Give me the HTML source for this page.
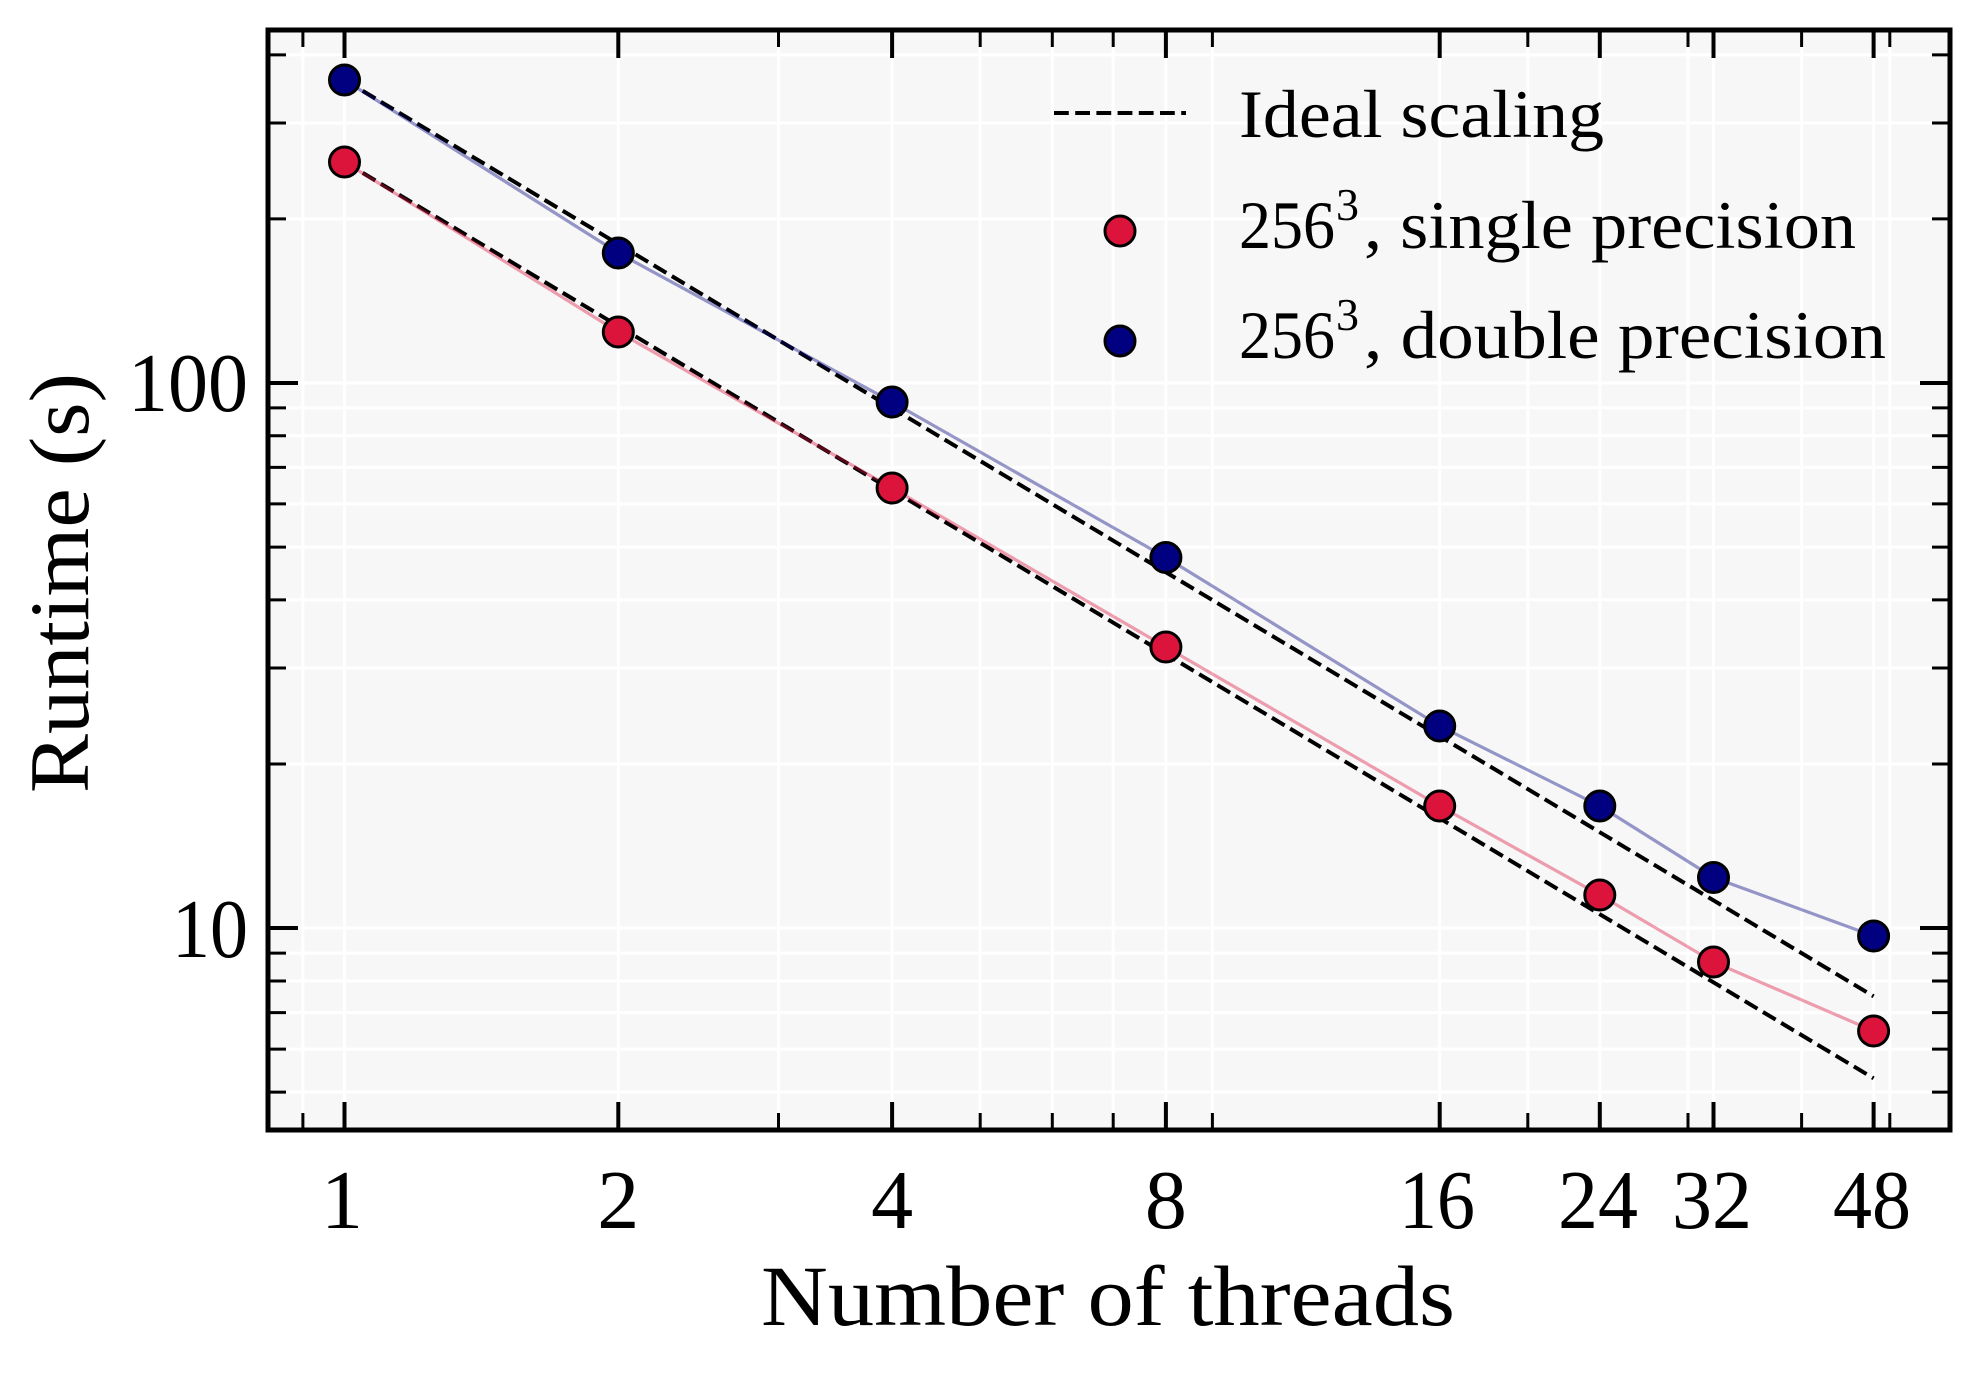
<!DOCTYPE html>
<html>
<head>
<meta charset="utf-8">
<style>
  html, body { margin: 0; padding: 0; background: #ffffff; }
  svg { display: block; }
  text { font-family: "Liberation Serif", "DejaVu Serif", serif; fill: #000; }
</style>
</head>
<body>
<svg xmlns="http://www.w3.org/2000/svg" width="1980" height="1380" viewBox="0 0 1980 1380">
  <rect x="0" y="0" width="1980" height="1380" fill="#ffffff"/>
  <!-- axes background -->
  <rect x="268" y="30" width="1682" height="1100" fill="#f7f7f7"/>

  <!-- grid -->
  <g stroke="#ffffff" stroke-width="3">
    <!-- vertical -->
    <line x1="302.9" y1="30" x2="302.9" y2="1130"/>
    <line x1="344.5" y1="30" x2="344.5" y2="1130"/>
    <line x1="618.3" y1="30" x2="618.3" y2="1130"/>
    <line x1="778.5" y1="30" x2="778.5" y2="1130"/>
    <line x1="892.1" y1="30" x2="892.1" y2="1130"/>
    <line x1="980.2" y1="30" x2="980.2" y2="1130"/>
    <line x1="1052.3" y1="30" x2="1052.3" y2="1130"/>
    <line x1="1113.2" y1="30" x2="1113.2" y2="1130"/>
    <line x1="1165.9" y1="30" x2="1165.9" y2="1130"/>
    <line x1="1212.4" y1="30" x2="1212.4" y2="1130"/>
    <line x1="1439.7" y1="30" x2="1439.7" y2="1130"/>
    <line x1="1527.8" y1="30" x2="1527.8" y2="1130"/>
    <line x1="1599.8" y1="30" x2="1599.8" y2="1130"/>
    <line x1="1688.0" y1="30" x2="1688.0" y2="1130"/>
    <line x1="1713.5" y1="30" x2="1713.5" y2="1130"/>
    <line x1="1801.6" y1="30" x2="1801.6" y2="1130"/>
    <line x1="1873.6" y1="30" x2="1873.6" y2="1130"/>
    <line x1="1889.8" y1="30" x2="1889.8" y2="1130"/>
    <!-- horizontal -->
    <line x1="268" y1="1092.1" x2="1950" y2="1092.1"/>
    <line x1="268" y1="1049.1" x2="1950" y2="1049.1"/>
    <line x1="268" y1="1012.6" x2="1950" y2="1012.6"/>
    <line x1="268" y1="981.0" x2="1950" y2="981.0"/>
    <line x1="268" y1="953.1" x2="1950" y2="953.1"/>
    <line x1="268" y1="928.0" x2="1950" y2="928.0"/>
    <line x1="268" y1="764.0" x2="1950" y2="764.0"/>
    <line x1="268" y1="668.0" x2="1950" y2="668.0"/>
    <line x1="268" y1="599.9" x2="1950" y2="599.9"/>
    <line x1="268" y1="547.1" x2="1950" y2="547.1"/>
    <line x1="268" y1="503.9" x2="1950" y2="503.9"/>
    <line x1="268" y1="467.4" x2="1950" y2="467.4"/>
    <line x1="268" y1="435.8" x2="1950" y2="435.8"/>
    <line x1="268" y1="407.9" x2="1950" y2="407.9"/>
    <line x1="268" y1="383.0" x2="1950" y2="383.0"/>
    <line x1="268" y1="218.9" x2="1950" y2="218.9"/>
    <line x1="268" y1="123.0" x2="1950" y2="123.0"/>
    <line x1="268" y1="54.9" x2="1950" y2="54.9"/>
  </g>

  <!-- ideal scaling dashed lines -->
  <g stroke="#000" stroke-width="4" stroke-dasharray="14.8 6.4" fill="none">
    <line x1="344.5" y1="162" x2="1873.6" y2="1078.3"/>
    <line x1="344.5" y1="80" x2="1873.6" y2="996.3"/>
  </g>

  <!-- series lines -->
  <polyline fill="none" stroke="#dc143c" stroke-opacity="0.4" stroke-width="3.2"
    points="344.5,162 618.3,332 892.1,488 1165.9,647 1439.7,806 1599.8,895 1713.5,962 1873.6,1031"/>
  <polyline fill="none" stroke="#000080" stroke-opacity="0.4" stroke-width="3.2"
    points="344.5,80 618.3,253 892.1,402 1165.9,557.5 1439.7,726 1599.8,806 1713.5,877.5 1873.6,936"/>

  <!-- markers -->
  <g stroke="#000" stroke-width="3" fill="#dc143c">
    <circle cx="344.5" cy="162" r="15"/>
    <circle cx="618.3" cy="332" r="15"/>
    <circle cx="892.1" cy="488" r="15"/>
    <circle cx="1165.9" cy="647" r="15"/>
    <circle cx="1439.7" cy="806" r="15"/>
    <circle cx="1599.8" cy="895" r="15"/>
    <circle cx="1713.5" cy="962" r="15"/>
    <circle cx="1873.6" cy="1031" r="15"/>
  </g>
  <g stroke="#000" stroke-width="3" fill="#000080">
    <circle cx="344.5" cy="80" r="15"/>
    <circle cx="618.3" cy="253" r="15"/>
    <circle cx="892.1" cy="402" r="15"/>
    <circle cx="1165.9" cy="557.5" r="15"/>
    <circle cx="1439.7" cy="726" r="15"/>
    <circle cx="1599.8" cy="806" r="15"/>
    <circle cx="1713.5" cy="877.5" r="15"/>
    <circle cx="1873.6" cy="936" r="15"/>
  </g>

  <!-- legend -->
  <line x1="1054" y1="113" x2="1186" y2="113" stroke="#000" stroke-width="4" stroke-dasharray="14.8 6.4"/>
  <text x="1239" y="137" font-size="68" textLength="365" lengthAdjust="spacingAndGlyphs">Ideal scaling</text>
  <circle cx="1120" cy="231" r="15" fill="#dc143c" stroke="#000" stroke-width="3"/>
  <text x="1239" y="248" font-size="68" textLength="96" lengthAdjust="spacingAndGlyphs">256</text>
  <text x="1336" y="220" font-size="46">3</text>
  <text x="1364" y="248" font-size="68" textLength="492" lengthAdjust="spacingAndGlyphs">, single precision</text>
  <circle cx="1120" cy="341" r="15" fill="#000080" stroke="#000" stroke-width="3"/>
  <text x="1239" y="358" font-size="68" textLength="96" lengthAdjust="spacingAndGlyphs">256</text>
  <text x="1336" y="330" font-size="46">3</text>
  <text x="1364" y="358" font-size="68" textLength="522" lengthAdjust="spacingAndGlyphs">, double precision</text>

  <!-- ticks -->
  <g stroke="#000" stroke-width="4">
    <!-- bottom major -->
    <line x1="344.5" y1="1130" x2="344.5" y2="1102"/>
    <line x1="618.3" y1="1130" x2="618.3" y2="1102"/>
    <line x1="892.1" y1="1130" x2="892.1" y2="1102"/>
    <line x1="1165.9" y1="1130" x2="1165.9" y2="1102"/>
    <line x1="1439.7" y1="1130" x2="1439.7" y2="1102"/>
    <line x1="1599.8" y1="1130" x2="1599.8" y2="1102"/>
    <line x1="1713.5" y1="1130" x2="1713.5" y2="1102"/>
    <line x1="1873.6" y1="1130" x2="1873.6" y2="1102"/>
    <!-- top major -->
    <line x1="344.5" y1="30" x2="344.5" y2="58"/>
    <line x1="618.3" y1="30" x2="618.3" y2="58"/>
    <line x1="892.1" y1="30" x2="892.1" y2="58"/>
    <line x1="1165.9" y1="30" x2="1165.9" y2="58"/>
    <line x1="1439.7" y1="30" x2="1439.7" y2="58"/>
    <line x1="1599.8" y1="30" x2="1599.8" y2="58"/>
    <line x1="1713.5" y1="30" x2="1713.5" y2="58"/>
    <line x1="1873.6" y1="30" x2="1873.6" y2="58"/>
    <!-- left/right major -->
    <line x1="268" y1="383" x2="298" y2="383"/>
    <line x1="268" y1="928" x2="298" y2="928"/>
    <line x1="1950" y1="383" x2="1920" y2="383"/>
    <line x1="1950" y1="928" x2="1920" y2="928"/>
  </g>
  <g stroke="#000" stroke-width="3">
    <!-- bottom minor -->
    <line x1="302.9" y1="1130" x2="302.9" y2="1113"/>
    <line x1="778.5" y1="1130" x2="778.5" y2="1113"/>
    <line x1="980.2" y1="1130" x2="980.2" y2="1113"/>
    <line x1="1052.3" y1="1130" x2="1052.3" y2="1113"/>
    <line x1="1113.2" y1="1130" x2="1113.2" y2="1113"/>
    <line x1="1212.4" y1="1130" x2="1212.4" y2="1113"/>
    <line x1="1527.8" y1="1130" x2="1527.8" y2="1113"/>
    <line x1="1688.0" y1="1130" x2="1688.0" y2="1113"/>
    <line x1="1801.6" y1="1130" x2="1801.6" y2="1113"/>
    <line x1="1889.8" y1="1130" x2="1889.8" y2="1113"/>
    <!-- top minor -->
    <line x1="302.9" y1="30" x2="302.9" y2="47"/>
    <line x1="778.5" y1="30" x2="778.5" y2="47"/>
    <line x1="980.2" y1="30" x2="980.2" y2="47"/>
    <line x1="1052.3" y1="30" x2="1052.3" y2="47"/>
    <line x1="1113.2" y1="30" x2="1113.2" y2="47"/>
    <line x1="1212.4" y1="30" x2="1212.4" y2="47"/>
    <line x1="1527.8" y1="30" x2="1527.8" y2="47"/>
    <line x1="1688.0" y1="30" x2="1688.0" y2="47"/>
    <line x1="1801.6" y1="30" x2="1801.6" y2="47"/>
    <line x1="1889.8" y1="30" x2="1889.8" y2="47"/>
    <!-- left minor -->
    <line x1="268" y1="1092.1" x2="286" y2="1092.1"/>
    <line x1="268" y1="1049.1" x2="286" y2="1049.1"/>
    <line x1="268" y1="1012.6" x2="286" y2="1012.6"/>
    <line x1="268" y1="981.0" x2="286" y2="981.0"/>
    <line x1="268" y1="953.1" x2="286" y2="953.1"/>
    <line x1="268" y1="764.0" x2="286" y2="764.0"/>
    <line x1="268" y1="668.0" x2="286" y2="668.0"/>
    <line x1="268" y1="599.9" x2="286" y2="599.9"/>
    <line x1="268" y1="547.1" x2="286" y2="547.1"/>
    <line x1="268" y1="503.9" x2="286" y2="503.9"/>
    <line x1="268" y1="467.4" x2="286" y2="467.4"/>
    <line x1="268" y1="435.8" x2="286" y2="435.8"/>
    <line x1="268" y1="407.9" x2="286" y2="407.9"/>
    <line x1="268" y1="218.9" x2="286" y2="218.9"/>
    <line x1="268" y1="123.0" x2="286" y2="123.0"/>
    <line x1="268" y1="54.9" x2="286" y2="54.9"/>
    <!-- right minor -->
    <line x1="1950" y1="1092.1" x2="1932" y2="1092.1"/>
    <line x1="1950" y1="1049.1" x2="1932" y2="1049.1"/>
    <line x1="1950" y1="1012.6" x2="1932" y2="1012.6"/>
    <line x1="1950" y1="981.0" x2="1932" y2="981.0"/>
    <line x1="1950" y1="953.1" x2="1932" y2="953.1"/>
    <line x1="1950" y1="764.0" x2="1932" y2="764.0"/>
    <line x1="1950" y1="668.0" x2="1932" y2="668.0"/>
    <line x1="1950" y1="599.9" x2="1932" y2="599.9"/>
    <line x1="1950" y1="547.1" x2="1932" y2="547.1"/>
    <line x1="1950" y1="503.9" x2="1932" y2="503.9"/>
    <line x1="1950" y1="467.4" x2="1932" y2="467.4"/>
    <line x1="1950" y1="435.8" x2="1932" y2="435.8"/>
    <line x1="1950" y1="407.9" x2="1932" y2="407.9"/>
    <line x1="1950" y1="218.9" x2="1932" y2="218.9"/>
    <line x1="1950" y1="123.0" x2="1932" y2="123.0"/>
    <line x1="1950" y1="54.9" x2="1932" y2="54.9"/>
  </g>

  <!-- spines -->
  <rect x="268" y="30" width="1682" height="1100" fill="none" stroke="#000" stroke-width="5"/>

  <!-- x tick labels -->
  <g font-size="84" text-anchor="middle">
    <text x="342" y="1228">1</text>
    <text x="618.3" y="1228">2</text>
    <text x="892.1" y="1228">4</text>
    <text x="1165.9" y="1228">8</text>
    <text x="1437" y="1228" textLength="76" lengthAdjust="spacingAndGlyphs">16</text>
    <text x="1598" y="1228" textLength="80" lengthAdjust="spacingAndGlyphs">24</text>
    <text x="1712" y="1228" textLength="80" lengthAdjust="spacingAndGlyphs">32</text>
    <text x="1872" y="1228" textLength="78" lengthAdjust="spacingAndGlyphs">48</text>
  </g>
  <!-- y tick labels -->
  <g font-size="84" text-anchor="end">
    <text x="248" y="411" textLength="120" lengthAdjust="spacingAndGlyphs">100</text>
    <text x="248" y="957" textLength="76" lengthAdjust="spacingAndGlyphs">10</text>
  </g>

  <!-- axis labels -->
  <text x="1108" y="1325" font-size="86" text-anchor="middle" textLength="694" lengthAdjust="spacingAndGlyphs">Number of threads</text>
  <text transform="translate(88,583) rotate(-90)" x="0" y="0" font-size="85" text-anchor="middle" textLength="420" lengthAdjust="spacingAndGlyphs">Runtime (s)</text>
</svg>
</body>
</html>
